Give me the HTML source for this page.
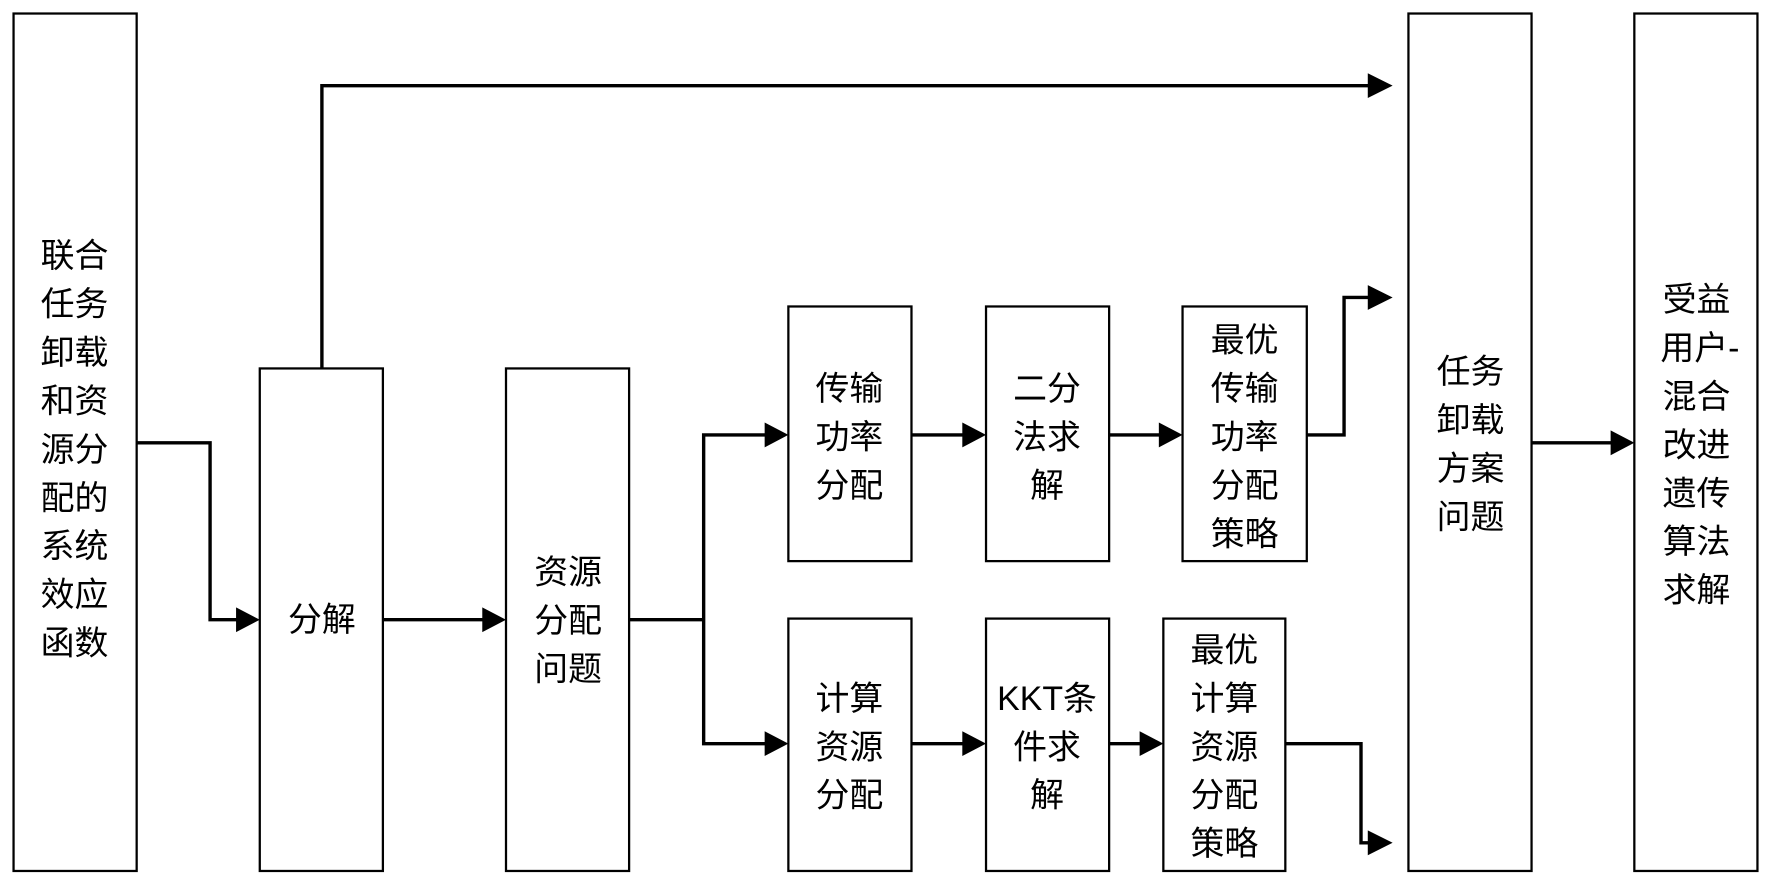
<!DOCTYPE html>
<html><head><meta charset="utf-8"><style>
html,body{margin:0;padding:0;background:#fff;}
svg{display:block;}
text{font-family:"Liberation Sans","Noto Sans CJK SC",sans-serif;font-size:30px;fill:#000;text-anchor:middle;}
</style></head><body>
<svg width="1771" height="889" viewBox="0 0 1568 789" preserveAspectRatio="none" xmlns="http://www.w3.org/2000/svg">
<defs><marker id="a" markerWidth="8" markerHeight="8" refX="7" refY="4" orient="auto" markerUnits="userSpaceOnUse"><path d="M0,0 L8,4 L0,8 Z"/></marker></defs>
<g fill="none" stroke="#000" stroke-width="2">
<rect x="12" y="12" width="109" height="761"/>
<rect x="230" y="327" width="109" height="446"/>
<rect x="448" y="327" width="109" height="446"/>
<rect x="698" y="272" width="109" height="226"/>
<rect x="873" y="272" width="109" height="226"/>
<rect x="1047" y="272" width="110" height="226"/>
<rect x="698" y="549" width="109" height="224"/>
<rect x="873" y="549" width="109" height="224"/>
<rect x="1030" y="549" width="108" height="224"/>
<rect x="1247" y="12" width="109" height="761"/>
<rect x="1447" y="12" width="109" height="761"/>
</g>
<g fill="none" stroke="#000" stroke-width="3">
<polyline points="285,327 285,76 1212,76"/>
<polyline points="121,393 186,393 186,550 210,550"/>
<line x1="339" y1="550" x2="428" y2="550"/>
<polyline points="557,550 623,550"/>
<polyline points="678,386 623,386 623,660 678,660"/>
<line x1="807" y1="386" x2="853" y2="386"/>
<line x1="982" y1="386" x2="1027" y2="386"/>
<line x1="807" y1="660" x2="853" y2="660"/>
<line x1="982" y1="660" x2="1010" y2="660"/>
<polyline points="1157,386 1190,386 1190,264 1212,264"/>
<polyline points="1138,660 1205,660 1205,748 1212,748"/>
<line x1="1356" y1="393" x2="1427" y2="393"/>
</g>
<g fill="#000">
<path d="M1211,65 L1233,76 L1211,87Z"/>
<path d="M209,539 L230,550 L209,561Z"/>
<path d="M427,539 L448,550 L427,561Z"/>
<path d="M677,375 L698,386 L677,397Z"/>
<path d="M677,649 L698,660 L677,671Z"/>
<path d="M852,375 L873,386 L852,397Z"/>
<path d="M1026,375 L1047,386 L1026,397Z"/>
<path d="M852,649 L873,660 L852,671Z"/>
<path d="M1009,649 L1030,660 L1009,671Z"/>
<path d="M1211,253 L1233,264 L1211,275Z"/>
<path d="M1211,737 L1233,748 L1211,759Z"/>
<path d="M1426,382 L1447,393 L1426,404Z"/>
</g>
<text x="66" y="237">联合</text><text x="66" y="280">任务</text><text x="66" y="323">卸载</text><text x="66" y="366">和资</text><text x="66" y="409">源分</text><text x="66" y="452">配的</text><text x="66" y="495">系统</text><text x="66" y="538">效应</text><text x="66" y="565" dy="16">函数</text>
<text x="285" y="560">分解</text>
<text x="503" y="518">资源</text><text x="503" y="561">分配</text><text x="503" y="604">问题</text>
<text x="752" y="355">传输</text><text x="752" y="398">功率</text><text x="752" y="441">分配</text>
<text x="927" y="355">二分</text><text x="927" y="398">法求</text><text x="927" y="441">解</text>
<text x="1102" y="312">最优</text><text x="1102" y="355">传输</text><text x="1102" y="398">功率</text><text x="1102" y="441">分配</text><text x="1102" y="484">策略</text>
<text x="752" y="630">计算</text><text x="752" y="673">资源</text><text x="752" y="716">分配</text>
<text x="927" y="630">KKT条</text><text x="927" y="673">件求</text><text x="927" y="716">解</text>
<text x="1084" y="587">最优</text><text x="1084" y="630">计算</text><text x="1084" y="673">资源</text><text x="1084" y="716">分配</text><text x="1084" y="759">策略</text>
<text x="1302" y="340">任务</text><text x="1302" y="383">卸载</text><text x="1302" y="426">方案</text><text x="1302" y="469">问题</text>
<text x="1502" y="276">受益</text><text x="1505" y="319">用户-</text><text x="1502" y="362">混合</text><text x="1502" y="405">改进</text><text x="1502" y="448">遗传</text><text x="1502" y="491">算法</text><text x="1502" y="534">求解</text>
</svg>
</body></html>
